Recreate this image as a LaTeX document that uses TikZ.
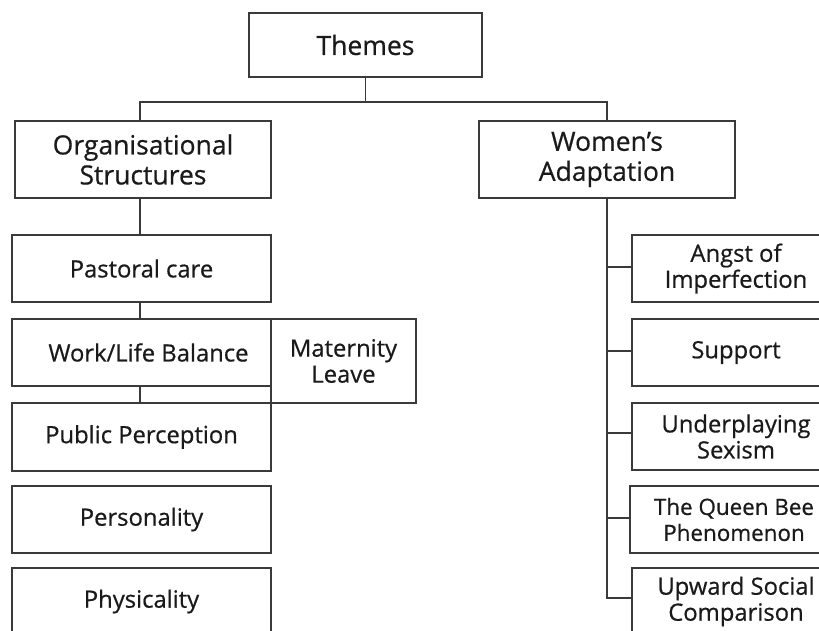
\documentclass[tikz,border=0pt]{standalone}
\usepackage{fontspec}
\setmainfont{Open Sans}[FakeBold=0.6]
\definecolor{linec}{HTML}{3a3a3a}
\definecolor{textc}{HTML}{1a1a1a}
\tikzset{
  box/.style={draw=linec, line width=1.5pt, inner sep=0pt, align=center, text=textc,
    font=\fontsize{23.8}{26}\selectfont},
  headbox/.style={box, font=\fontsize{26.5}{30}\selectfont},
  conn/.style={draw=linec, line width=1.5pt}
}
\begin{document}
\begin{tikzpicture}[x=1pt,y=-1pt]
\useasboundingbox (0,0) rectangle (819,630);
\clip (0,0) rectangle (819,630);
\fill[white] (0,0) rectangle (819,630);
% headings
\node[headbox, minimum width=233pt, minimum height=64pt] (themes) at (365.5,45) {Themes};
\node[headbox, minimum width=256pt, minimum height=77pt] (org) at (143,159.5) {Organisational\\Structures};
\node[headbox, minimum width=256pt, minimum height=77pt] (women) at (607,159.5) {Women’s\\Adaptation};
% left column
\node[box, minimum width=259pt, minimum height=67pt] (pastoral) at (141.5,268.5) {Pastoral care};
\node[box, minimum width=259pt, minimum height=67pt] (work) at (141.5,352.5) {\hspace*{14pt}Work/Life Balance};
\node[box, minimum width=145pt, minimum height=84pt] (maternity) at (343.5,361) {Maternity\\Leave};
\node[box, minimum width=259pt, minimum height=68pt] (public) at (141.5,437) {Public Perception};
\node[box, minimum width=259pt, minimum height=67pt] (personality) at (141.5,519.5) {Personality};
\node[box, minimum width=259pt, minimum height=67pt] (physicality) at (141.5,601.5) {Physicality};
% right column
\node[box, minimum width=208pt, minimum height=67pt] (angst) at (736,268.5) {Angst of\\Imperfection};
\node[box, minimum width=208pt, minimum height=67pt] (support) at (736,352.5) {Support};
\node[box, minimum width=208pt, minimum height=67pt] (under) at (736,436.5) {Underplaying\\Sexism};
\node[box, minimum width=208pt, minimum height=67pt, font=\fontsize{22.4}{26}\selectfont] (queen) at (734,519.5) {The Queen Bee\\Phenomenon};
\node[box, minimum width=208pt, minimum height=67pt] (upward) at (736,601.5) {Upward Social\\Comparison};
% top connectors
\draw[conn] (themes.south) -- ++(0,24) coordinate (j);
\draw[conn] ([xshift=-3pt]org.north) |- (j) -| (women.north);
% left chain
\draw[conn] ([xshift=-3pt]org.south) -- ([xshift=-3pt]org.south |- pastoral.north);
\draw[conn] ([xshift=-1.5pt]pastoral.south) -- ([xshift=-1.5pt]work.north);
\draw[conn] ([xshift=-1.5pt]work.south) -- ([xshift=-1.5pt]public.north);
% right trunk
\draw[conn] (women.south) |- ([yshift=3.5pt]upward.west);
\draw[conn] ([yshift=1.5pt]angst.west) -- ([yshift=1.5pt]angst.west -| women.south);
\draw[conn] ([yshift=1.5pt]support.west) -- ([yshift=1.5pt]support.west -| women.south);
\draw[conn] ([yshift=3.5pt]under.west) -- ([yshift=3.5pt]under.west -| women.south);
\draw[conn] ([yshift=1.5pt]queen.west) -- ([yshift=1.5pt]queen.west -| women.south);
\end{tikzpicture}
\end{document}
